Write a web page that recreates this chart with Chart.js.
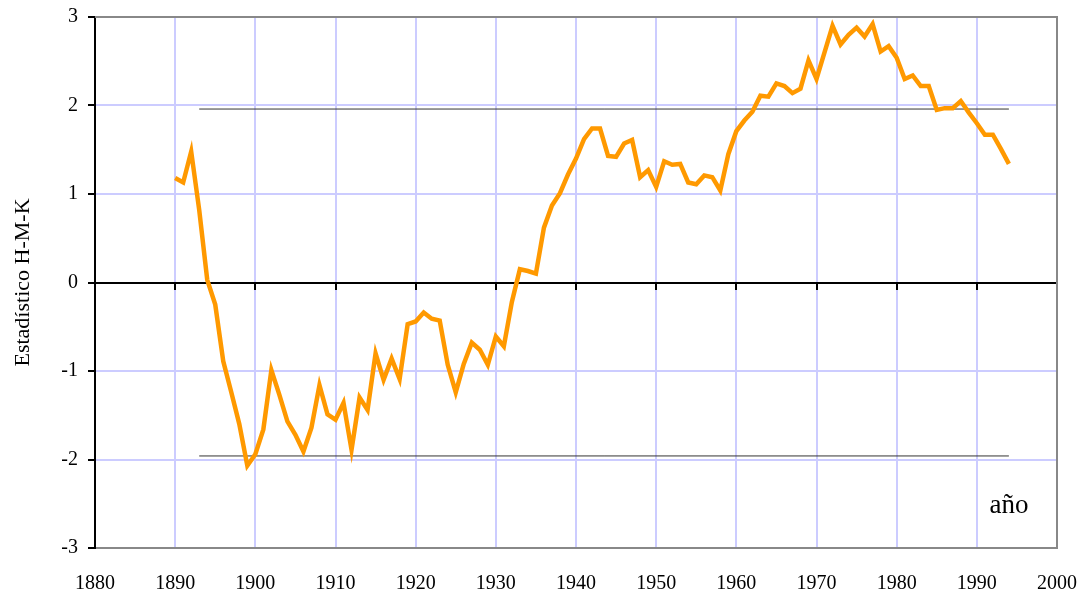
<!DOCTYPE html>
<html>
<head>
<meta charset="utf-8">
<script src="https://cdn.jsdelivr.net/npm/chart.js@4/dist/chart.umd.min.js"></script>
<style>
  html, body { margin: 0; padding: 0; background: #fff; }
  canvas { display: block; }
</style>
</head>
<body>
<canvas id="hmkChart" width="1080" height="594"></canvas>
<script>
const years = [
    1890, 1891, 1892, 1893, 1894, 1895, 1896, 1897, 1898, 1899,
    1900, 1901, 1902, 1903, 1904, 1905, 1906, 1907, 1908, 1909,
    1910, 1911, 1912, 1913, 1914, 1915, 1916, 1917, 1918, 1919,
    1920, 1921, 1922, 1923, 1924, 1925, 1926, 1927, 1928, 1929,
    1930, 1931, 1932, 1933, 1934, 1935, 1936, 1937, 1938, 1939,
    1940, 1941, 1942, 1943, 1944, 1945, 1946, 1947, 1948, 1949,
    1950, 1951, 1952, 1953, 1954, 1955, 1956, 1957, 1958, 1959,
    1960, 1961, 1962, 1963, 1964, 1965, 1966, 1967, 1968, 1969,
    1970, 1971, 1972, 1973, 1974, 1975, 1976, 1977, 1978, 1979,
    1980, 1981, 1982, 1983, 1984, 1985, 1986, 1987, 1988, 1989,
    1990, 1991, 1992, 1993, 1994
];

const hmkValues = [
    1.18, 1.13, 1.48, 0.82, 0.03, -0.25, -0.89, -1.24, -1.60, -2.07,
    -1.94, -1.66, -0.99, -1.27, -1.57, -1.72, -1.91, -1.64, -1.16, -1.49,
    -1.55, -1.36, -1.89, -1.30, -1.44, -0.80, -1.10, -0.86, -1.09, -0.47,
    -0.44, -0.34, -0.41, -0.43, -0.93, -1.24, -0.92, -0.68, -0.76, -0.93,
    -0.61, -0.72, -0.22, 0.15, 0.13, 0.10, 0.62, 0.87, 1.01, 1.22,
    1.40, 1.62, 1.74, 1.74, 1.43, 1.42, 1.57, 1.61, 1.19, 1.27,
    1.08, 1.37, 1.33, 1.34, 1.13, 1.11, 1.21, 1.19, 1.04, 1.45,
    1.71, 1.83, 1.93, 2.11, 2.10, 2.25, 2.22, 2.14, 2.19, 2.51,
    2.30, 2.60, 2.90, 2.69, 2.80, 2.88, 2.78, 2.92, 2.61, 2.67,
    2.54, 2.30, 2.34, 2.22, 2.22, 1.95, 1.97, 1.97, 2.05, 1.92,
    1.80, 1.67, 1.67, 1.51, 1.34
];

// limites de significancia (±1.96)
const criticalValue = 1.96;
const criticalYears = [1893, 1994];

const xTicks = { min: 1880, max: 2000, step: 10 };
const yTicks = { min: -3, max: 3, step: 1 };

const yTitle = 'Estadístico H-M-K';
const xTitle = 'año';

const serif = "'Liberation Serif', 'DejaVu Serif', serif";
const gridColor = '#ccccff';

const seriesPoints = years.map((y, i) => ({ x: y, y: hmkValues[i] }));
const upperLine = criticalYears.map(y => ({ x: y, y: criticalValue }));
const lowerLine = criticalYears.map(y => ({ x: y, y: -criticalValue }));

const frame = {
    id: 'frame',
    beforeDatasetsDraw(chart) {
        const { ctx, chartArea } = chart;
        ctx.save();
        ctx.strokeStyle = '#888888';
        ctx.lineWidth = 2;
        ctx.beginPath();
        ctx.moveTo(chartArea.left, chartArea.top);
        ctx.lineTo(chartArea.right, chartArea.top);
        ctx.lineTo(chartArea.right, chartArea.bottom);
        ctx.stroke();
        ctx.restore();
    },
    afterDraw(chart) {
        const { ctx } = chart;
        const x = chart.scales.x.getPixelForValue(1994);
        const y = chart.scales.y.getPixelForValue(-2.53);
        ctx.save();
        ctx.fillStyle = '#000';
        ctx.font = '27px ' + serif;
        ctx.textAlign = 'center';
        ctx.textBaseline = 'middle';
        ctx.fillText(xTitle, x, y);
        ctx.restore();
    }
};

const ctx = document.getElementById('hmkChart').getContext('2d');

new Chart(ctx, {
    type: 'line',
    data: {
        datasets: [
            {
                data: seriesPoints,
                borderColor: '#ff9900',
                borderWidth: 4.5,
                pointRadius: 0,
                tension: 0,
                fill: false
            },
            {
                data: upperLine,
                borderColor: '#333333',
                borderWidth: 1,
                pointRadius: 0,
                fill: false
            },
            {
                data: lowerLine,
                borderColor: '#333333',
                borderWidth: 1,
                pointRadius: 0,
                fill: false
            }
        ]
    },
    options: {
        responsive: false,
        animation: false,
        layout: {
            padding: { top: 17, right: 23, left: 0, bottom: 0 }
        },
        plugins: {
            legend: { display: false },
            tooltip: { enabled: false }
        },
        scales: {
            x: {
                type: 'linear',
                position: 'bottom',
                min: xTicks.min,
                max: xTicks.max,
                ticks: {
                    stepSize: xTicks.step,
                    color: '#000',
                    padding: 24,
                    maxRotation: 0,
                    font: { family: serif, size: 20 },
                    callback: v => String(v)
                },
                grid: {
                    color: gridColor,
                    lineWidth: 2,
                    drawTicks: false
                },
                border: { color: '#888888', width: 2 },
                afterFit: scale => {
                    scale.height = 46;
                    scale.paddingLeft = 0;
                    scale.paddingRight = 0;
                }
            },
            xZero: {
                type: 'linear',
                axis: 'x',
                position: { y: 0 },
                min: xTicks.min,
                max: xTicks.max,
                ticks: { stepSize: xTicks.step, display: false },
                grid: {
                    drawOnChartArea: false,
                    tickLength: 6,
                    tickColor: '#000',
                    lineWidth: 2
                },
                border: { color: '#000', width: 2 },
                afterFit: scale => {
                    scale.paddingLeft = 0;
                    scale.paddingRight = 0;
                }
            },
            y: {
                min: yTicks.min,
                max: yTicks.max,
                ticks: {
                    stepSize: yTicks.step,
                    color: '#000',
                    padding: 10,
                    font: { family: serif, size: 20 }
                },
                grid: {
                    color: gridColor,
                    lineWidth: 2,
                    tickLength: 7,
                    tickColor: '#000'
                },
                border: { color: '#000', width: 2 },
                title: {
                    display: true,
                    text: yTitle,
                    color: '#000',
                    padding: { top: 10, bottom: 0 },
                    font: { family: serif, size: 22 }
                },
                afterFit: scale => {
                    scale.width = 95;
                    scale.paddingTop = 0;
                    scale.paddingBottom = 0;
                }
            }
        }
    },
    plugins: [frame]
});
</script>
</body>
</html>
